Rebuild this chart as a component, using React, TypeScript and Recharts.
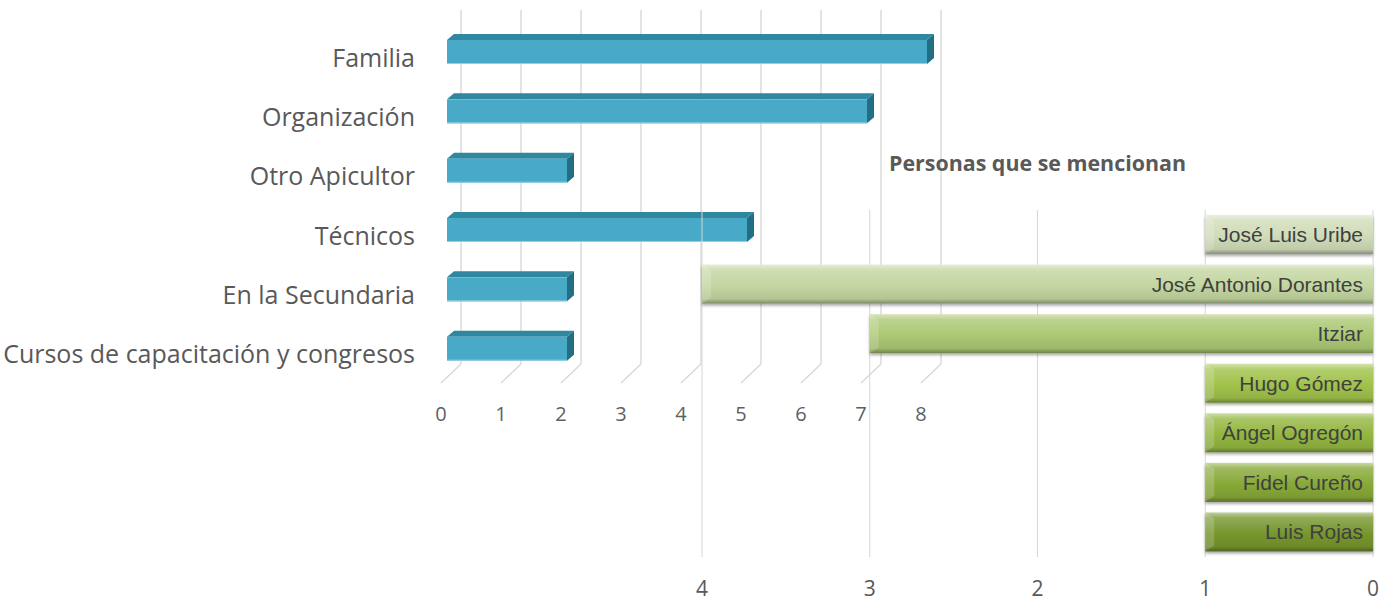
import { BarChart, Bar, XAxis, YAxis, CartesianGrid } from 'recharts';

// left chart: where they learned
const categories = ['Familia', 'Organización', 'Otro Apicultor', 'Técnicos', 'En la Secundaria', 'Cursos de capacitación y congresos'];
const counts = [8, 7, 2, 5, 2, 2];
const countTicks = [0, 1, 2, 3, 4, 5, 6, 7, 8];

// right chart: people mentioned
const people = ['José Luis Uribe', 'José Antonio Dorantes', 'Itziar', 'Hugo Gómez', 'Ángel Ogregón', 'Fidel Cureño', 'Luis Rojas'];
const mentions = [1, 4, 3, 1, 1, 1, 1];
const mentionTicks = [0, 1, 2, 3, 4];

const greenPalette = ['#d0dcb8', '#c3d6a0', '#abc873', '#a0c24a', '#93b640', '#87a937', '#76962d'];

const sourceData = categories.map((name, i) => ({ name, value: counts[i] }));
const peopleData = people.map((name, i) => ({ name, value: mentions[i] }));

const FONT = '"Open Sans", sans-serif';
const GRID = '#d6d6d6';

const mix = (hex: string, to: string, t: number) => {
  const a = parseInt(hex.slice(1), 16);
  const b = parseInt(to.slice(1), 16);
  const ch = (s: number) => Math.round(((a >> s) & 255) * (1 - t) + ((b >> s) & 255) * t);
  return `rgb(${ch(16)},${ch(8)},${ch(0)})`;
};

// back wall gridline + floor diagonal for the fake 3D look
const BackGrid = (props: any) => {
  const { x1, y1, y2 } = props;
  return (
    <g key={props.key ?? `g-${x1}`}>
      <line x1={x1 + 14} y1={y1 - 12} x2={x1 + 14} y2={y2 - 14} stroke={GRID} strokeWidth={1.3} />
      <line x1={x1 + 14} y1={y2 - 14} x2={x1 - 6} y2={y2 + 5} stroke={GRID} strokeWidth={1.3} />
    </g>
  );
};

const Bar3D = (props: any) => {
  const { x, y, width, height } = props;
  const d = 7;
  const e = 6;
  return (
    <g>
      <polygon points={`${x},${y} ${x + d},${y - e} ${x + width + d},${y - e} ${x + width},${y}`} fill="#2f87a0" />
      <rect x={x} y={y} width={width} height={height} fill="#48aac7" />
      <line x1={x} y1={y + height - 0.5} x2={x + width} y2={y + height - 0.5} stroke="#8fd0e2" strokeWidth={1} />
      <polygon
        points={`${x + width},${y} ${x + width + d},${y - e} ${x + width + d},${y + height - e} ${x + width},${y + height}`}
        fill="#226f85"
      />
    </g>
  );
};

const SourceTick = (props: any) => {
  const { x, y, payload } = props;
  return (
    <text x={x} y={y + 6} dy="0.357em" textAnchor="end" fill="#595959" fontSize={25} fontFamily={FONT}>
      {payload.value}
    </text>
  );
};

const CountTick = (props: any) => {
  const { x, y, payload } = props;
  return (
    <text x={x - 6} y={y} dy="0.71em" textAnchor="middle" fill="#5f5f5f" fontSize={20} fontFamily={FONT}>
      {payload.value}
    </text>
  );
};

const GreenBar = (props: any) => {
  const { x, y, width, height, index } = props;
  const left = Math.min(x, x + width);
  const w = Math.abs(width);
  const name = props.payload?.name ?? props.name;
  return (
    <g>
      <rect x={left} y={y} width={w} height={height} fill={`url(#green${index})`} filter="url(#gshadow)" />
      <polygon
        points={`${left},${y} ${left + 9},${y + 6} ${left + 9},${y + height - 6} ${left},${y + height}`}
        fill="#ffffff"
        fillOpacity={0.18}
      />
      <text
        x={left + w - 10}
        y={y + height / 2}
        dy="0.36em"
        textAnchor="end"
        fill="#404040"
        fontSize={21}
        fontFamily='"Liberation Sans", Arial, sans-serif'
      >
        {name}
      </text>
    </g>
  );
};

export default function App() {
  return (
    <div style={{ position: 'absolute', left: 0, top: 0, width: 1389, height: 601, background: '#fff', overflow: 'hidden' }}>
      <div style={{ position: 'absolute', left: 0, top: 0 }}>
        <BarChart
          width={947}
          height={428}
          data={sourceData}
          layout="vertical"
          margin={{ top: 22, right: 20, left: 0, bottom: 0 }}
          barSize={24}
        >
          <CartesianGrid horizontal={false} vertical={BackGrid} />
          <XAxis
            type="number"
            domain={[0, 8]}
            ticks={countTicks}
            axisLine={false}
            tickLine={false}
            tickSize={0}
            tickMargin={29}
            height={50}
            tick={CountTick}
            interval={0}
          />
          <YAxis
            type="category"
            dataKey="name"
            width={447}
            axisLine={false}
            tickLine={false}
            tickSize={0}
            tickMargin={32}
            tick={SourceTick}
            interval={0}
          />
          <Bar dataKey="value" shape={(p: any) => <Bar3D {...p} />} isAnimationActive={false} />
        </BarChart>
      </div>

      <div
        style={{
          position: 'absolute',
          left: 702,
          top: 148,
          width: 671,
          height: 30,
          lineHeight: '30px',
          textAlign: 'center',
          fontFamily: FONT,
          fontWeight: 700,
          fontSize: 21.4,
          color: '#595959',
        }}
      >
        Personas que se mencionan
      </div>

      <div style={{ position: 'absolute', left: 680, top: 130 }}>
        <BarChart
          width={709}
          height={471}
          data={peopleData}
          layout="vertical"
          margin={{ top: 80, right: 16, left: 22, bottom: 0 }}
          barSize={39}
        >
          <defs>
            <filter id="gshadow" x="-5%" y="-20%" width="110%" height="150%">
              <feDropShadow dx="0" dy="2" stdDeviation="1.4" floodColor="#000" floodOpacity="0.35" />
            </filter>
            {greenPalette.map((c, i) => (
              <linearGradient key={c} id={`green${i}`} x1="0" y1="0" x2="0" y2="1">
                <stop offset="0%" stopColor={mix(c, '#ffffff', 0.55)} />
                <stop offset="14%" stopColor={mix(c, '#ffffff', 0.2)} />
                <stop offset="55%" stopColor={c} />
                <stop offset="88%" stopColor={mix(c, '#000000', 0.08)} />
                <stop offset="100%" stopColor={mix(c, '#000000', 0.35)} />
              </linearGradient>
            ))}
          </defs>
          <CartesianGrid horizontal={false} stroke={GRID} />
          <XAxis
            type="number"
            domain={[0, 4]}
            ticks={mentionTicks}
            reversed
            axisLine={false}
            tickLine={false}
            tickSize={0}
            tickMargin={24}
            height={44}
            tick={{ fill: '#595959', fontSize: 21, fontFamily: FONT }}
            interval={0}
          />
          <YAxis type="category" dataKey="name" hide />
          <Bar dataKey="value" shape={(p: any) => <GreenBar {...p} />} isAnimationActive={false} />
        </BarChart>
      </div>
    </div>
  );
}
